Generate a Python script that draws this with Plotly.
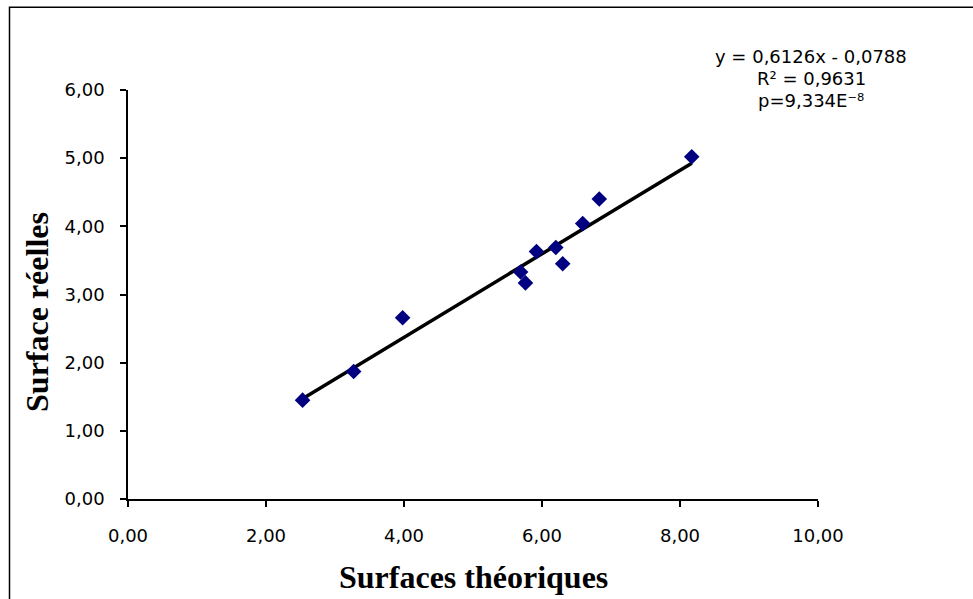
import plotly.graph_objects as go

# Data
x_theoriques = [2.53, 3.27, 3.98, 5.69, 5.76, 5.92, 6.20, 6.30, 6.59, 6.83, 8.17]
y_reelles = [1.45, 1.87, 2.66, 3.33, 3.17, 3.63, 3.69, 3.45, 4.04, 4.40, 5.02]
slope = 0.6126
intercept = -0.0788
eq_lines = ["y = 0,6126x - 0,0788", "R² = 0,9631", "p=9,334E⁻⁸"]
x_ticks = [0, 2, 4, 6, 8, 10]
y_ticks = [0, 1, 2, 3, 4, 5, 6]

W, H = 973, 599
L, R, T, B = 128, 818, 89.5, 499.5

def px(xp):
    return (xp - L) / (R - L)

def py(yp):
    return (B - yp) / (B - T)

x_line = [min(x_theoriques), max(x_theoriques)]
y_line = [slope * v + intercept for v in x_line]

fig = go.Figure()
fig.add_trace(go.Scatter(x=x_line, y=y_line, mode="lines",
                         line=dict(color="black", width=3.5), hoverinfo="skip",
                         showlegend=False))
fig.add_trace(go.Scatter(x=x_theoriques, y=y_reelles, mode="markers",
                         marker=dict(symbol="diamond", size=12, color="#000080",
                                     line=dict(width=0)),
                         showlegend=False))

tickfont = dict(family="DejaVu Sans", size=18, color="black")
fig.update_xaxes(range=[0, 10], tickvals=x_ticks, tickformat=".2f",
                 showgrid=False, zeroline=False, showline=True, linecolor="black",
                 linewidth=1.5, ticks="outside", ticklen=6, tickwidth=1.5,
                 tickcolor="black", tickfont=tickfont, ticklabelstandoff=14)
fig.update_yaxes(range=[0, 6], tickvals=y_ticks, tickformat=".2f",
                 showgrid=False, zeroline=False, showline=True, linecolor="black",
                 linewidth=1.5, ticks="outside", ticklen=6, tickwidth=1.5,
                 tickcolor="black", tickfont=tickfont, ticklabelstandoff=12)

annots = []
for text, yp in zip(eq_lines, [56, 78, 100]):
    annots.append(dict(x=px(811), y=py(yp), xref="paper", yref="paper",
                       text=text, showarrow=False, xanchor="center", yanchor="middle",
                       font=dict(family="DejaVu Sans", size=18, color="black")))
annots.append(dict(x=px(473), y=py(578), xref="paper", yref="paper",
                   text="<b>Surfaces théoriques</b>", showarrow=False,
                   xanchor="center", yanchor="middle",
                   font=dict(family="Liberation Serif", size=32, color="black")))
annots.append(dict(x=px(37), y=py(312), xref="paper", yref="paper",
                   text="<b>Surface réelles</b>", showarrow=False, textangle=-90,
                   xanchor="center", yanchor="middle",
                   font=dict(family="Liberation Serif", size=32, color="black")))

fig.update_layout(
    width=W, height=H,
    margin=dict(l=L, r=W - R, t=T, b=H - B, pad=0),
    plot_bgcolor="white", paper_bgcolor="white",
    separators=", ",
    annotations=annots,
    shapes=[dict(type="rect", xref="paper", yref="paper",
                 x0=px(9.5), x1=px(1010), y0=py(640), y1=py(6.5),
                 line=dict(color="black", width=1.5), layer="below")],
)

fig.write_html("out.html", config={"displayModeBar": False},
               post_script="document.body.style.margin='0';document.body.style.overflow='hidden';")
